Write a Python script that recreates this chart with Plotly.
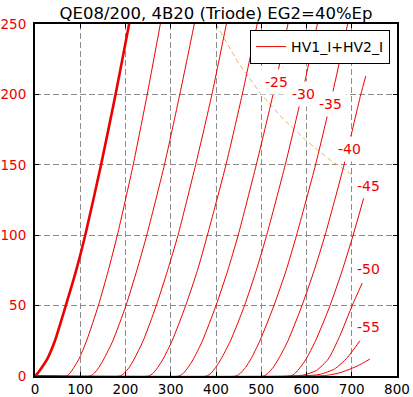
import plotly.graph_objects as go

# ---- data ----
grid_labels = ["0", "-5", "-10", "-15", "-20", "-25", "-30", "-35", "-40", "-45", "-50", "-55", "-60"]

# plate current levels (mA) at which the plate voltage of each curve was read
i_std = [0, 2, 6, 12, 25, 50, 75, 100, 150, 200, 250, 262]

vp_g0 = [0, 6, 15, 27, 44, 68, 91, 111, 146, 178, 208, 215]
vp_g5 = [0, 69, 77, 86, 97, 114, 140, 162, 182, 217, 248, 277, 284]
vp_g10 = [0, 122, 131, 141, 152, 172, 201, 225, 247, 286, 320, 352, 359]
vp_g15 = [0, 188, 197, 208, 219, 239, 268, 293, 316, 355, 391, 423, 431]
vp_g20 = [0, 251, 261, 271, 283, 303, 333, 359, 381, 422, 458, 491, 499]
vp_g25 = [0, 318, 328, 338, 350, 370, 400, 426, 449, 489, 526, 559, 567]
vp_g30 = [0, 379, 389, 399, 411, 432, 463, 489, 512, 553, 590, 624, 632]
vp_g35 = [0, 444, 454, 465, 477, 497, 528, 555, 578, 620, 657, 691, 699]
ip_mid = [0] + i_std  # baseline start at Vp = 0

vp_g40 = [0, 505, 515, 526, 538, 559, 590, 617, 641, 683, 720, 731]
ip_g40 = [0, 0, 2, 6, 12, 25, 50, 75, 100, 150, 200, 213]

vp_g45 = [0, 565, 575, 586, 599, 620, 652, 679, 703, 727]
ip_g45 = [0, 0, 2, 6, 12, 25, 50, 75, 100, 127]

vp_g50 = [0, 590, 622, 648, 673, 701, 723]
ip_g50 = [0, 0.5, 4, 12, 28, 50, 66]

vp_g55 = [0, 600, 630, 662, 690, 718]
ip_g55 = [0, 0.2, 1.2, 5, 13, 25]

vp_g60 = [0, 640, 670, 689, 715, 740]
ip_g60 = [0, 0.3, 2, 4, 7.5, 12]

# max plate dissipation line (100 W)
pd_v = [400, 450, 500, 550, 600, 650, 700, 770]
pd_i = [250, 222, 200, 182, 167, 154, 143, 130]

# curve labels (text, Vp, Ip)
lbl_text = ["-25", "-30", "-35", "-40", "-45", "-50", "-55"]
lbl_v = [534, 593, 652, 695, 737, 737, 738]
lbl_i = [209, 200.5, 193, 161, 135, 76, 35]

x_ticks = [0, 100, 200, 300, 400, 500, 600, 700, 800]
y_ticks = [0, 50, 100, 150, 200, 250]

title_text = "QE08/200, 4B20 (Triode) EG2=40%Ep"
legend_name = "HV1_I+HV2_I"

curves = [
    (vp_g0, i_std), (vp_g5, ip_mid), (vp_g10, ip_mid), (vp_g15, ip_mid),
    (vp_g20, ip_mid), (vp_g25, ip_mid), (vp_g30, ip_mid), (vp_g35, ip_mid),
    (vp_g40, ip_g40), (vp_g45, ip_g45), (vp_g50, ip_g50), (vp_g55, ip_g55),
    (vp_g60, ip_g60),
]

FONT = "DejaVu Sans"
RED = "#ee0000"

fig = go.Figure()

fig.add_trace(go.Scatter(
    x=pd_v, y=pd_i, mode="lines", showlegend=False, hoverinfo="skip",
    line=dict(color="rgb(242,178,95)", width=1, dash="5px,3px"),
))

for k, (vx, iy) in enumerate(curves):
    fig.add_trace(go.Scatter(
        x=vx, y=iy, mode="lines",
        name=legend_name if k == 1 else grid_labels[k],
        showlegend=(k == 1),
        line=dict(color=RED, width=2.6 if k == 0 else 1,
                  shape="spline", smoothing=0.6),
    ))

for t, vx, iy in zip(lbl_text, lbl_v, lbl_i):
    fig.add_annotation(
        x=vx, y=iy, text=t, showarrow=False,
        font=dict(family=FONT, size=14, color=RED),
        bgcolor="white", borderpad=4,
    )

axis_common = dict(
    showline=True, linecolor="black", linewidth=2, mirror="ticks",
    ticks="inside", ticklen=4, tickcolor="black", tickwidth=1,
    showgrid=True, gridcolor="#8c8c8c", gridwidth=1, griddash="6px,3px",
    zeroline=False, automargin=False,
)

fig.update_xaxes(range=[0, 800], tickvals=x_ticks,
                 tickfont=dict(family=FONT, size=13.5, color="black"),
                 **axis_common)
fig.update_yaxes(range=[0, 250], tickvals=y_ticks,
                 tickfont=dict(family=FONT, size=13.5, color=RED),
                 ticklabelstandoff=4,
                 **axis_common)

fig.update_layout(
    width=413, height=397,
    margin=dict(l=35, r=16, t=24, b=21, autoexpand=False),
    paper_bgcolor="white", plot_bgcolor="white",
    title=dict(text=title_text, x=0.5, xref="paper", xanchor="center",
               y=0.982, yref="container", yanchor="top",
               font=dict(family=FONT, size=16.5, color="black"),
               automargin=False),
    legend=dict(x=0.981, y=0.983, xanchor="right", yanchor="top",
                bgcolor="white", bordercolor="black", borderwidth=1,
                font=dict(family=FONT, size=14, color="black")),
    showlegend=True,
)

fig.write_html("out.html",
               config={"displayModeBar": False},
               post_script="document.body.style.margin='0';document.body.style.padding='0';")
